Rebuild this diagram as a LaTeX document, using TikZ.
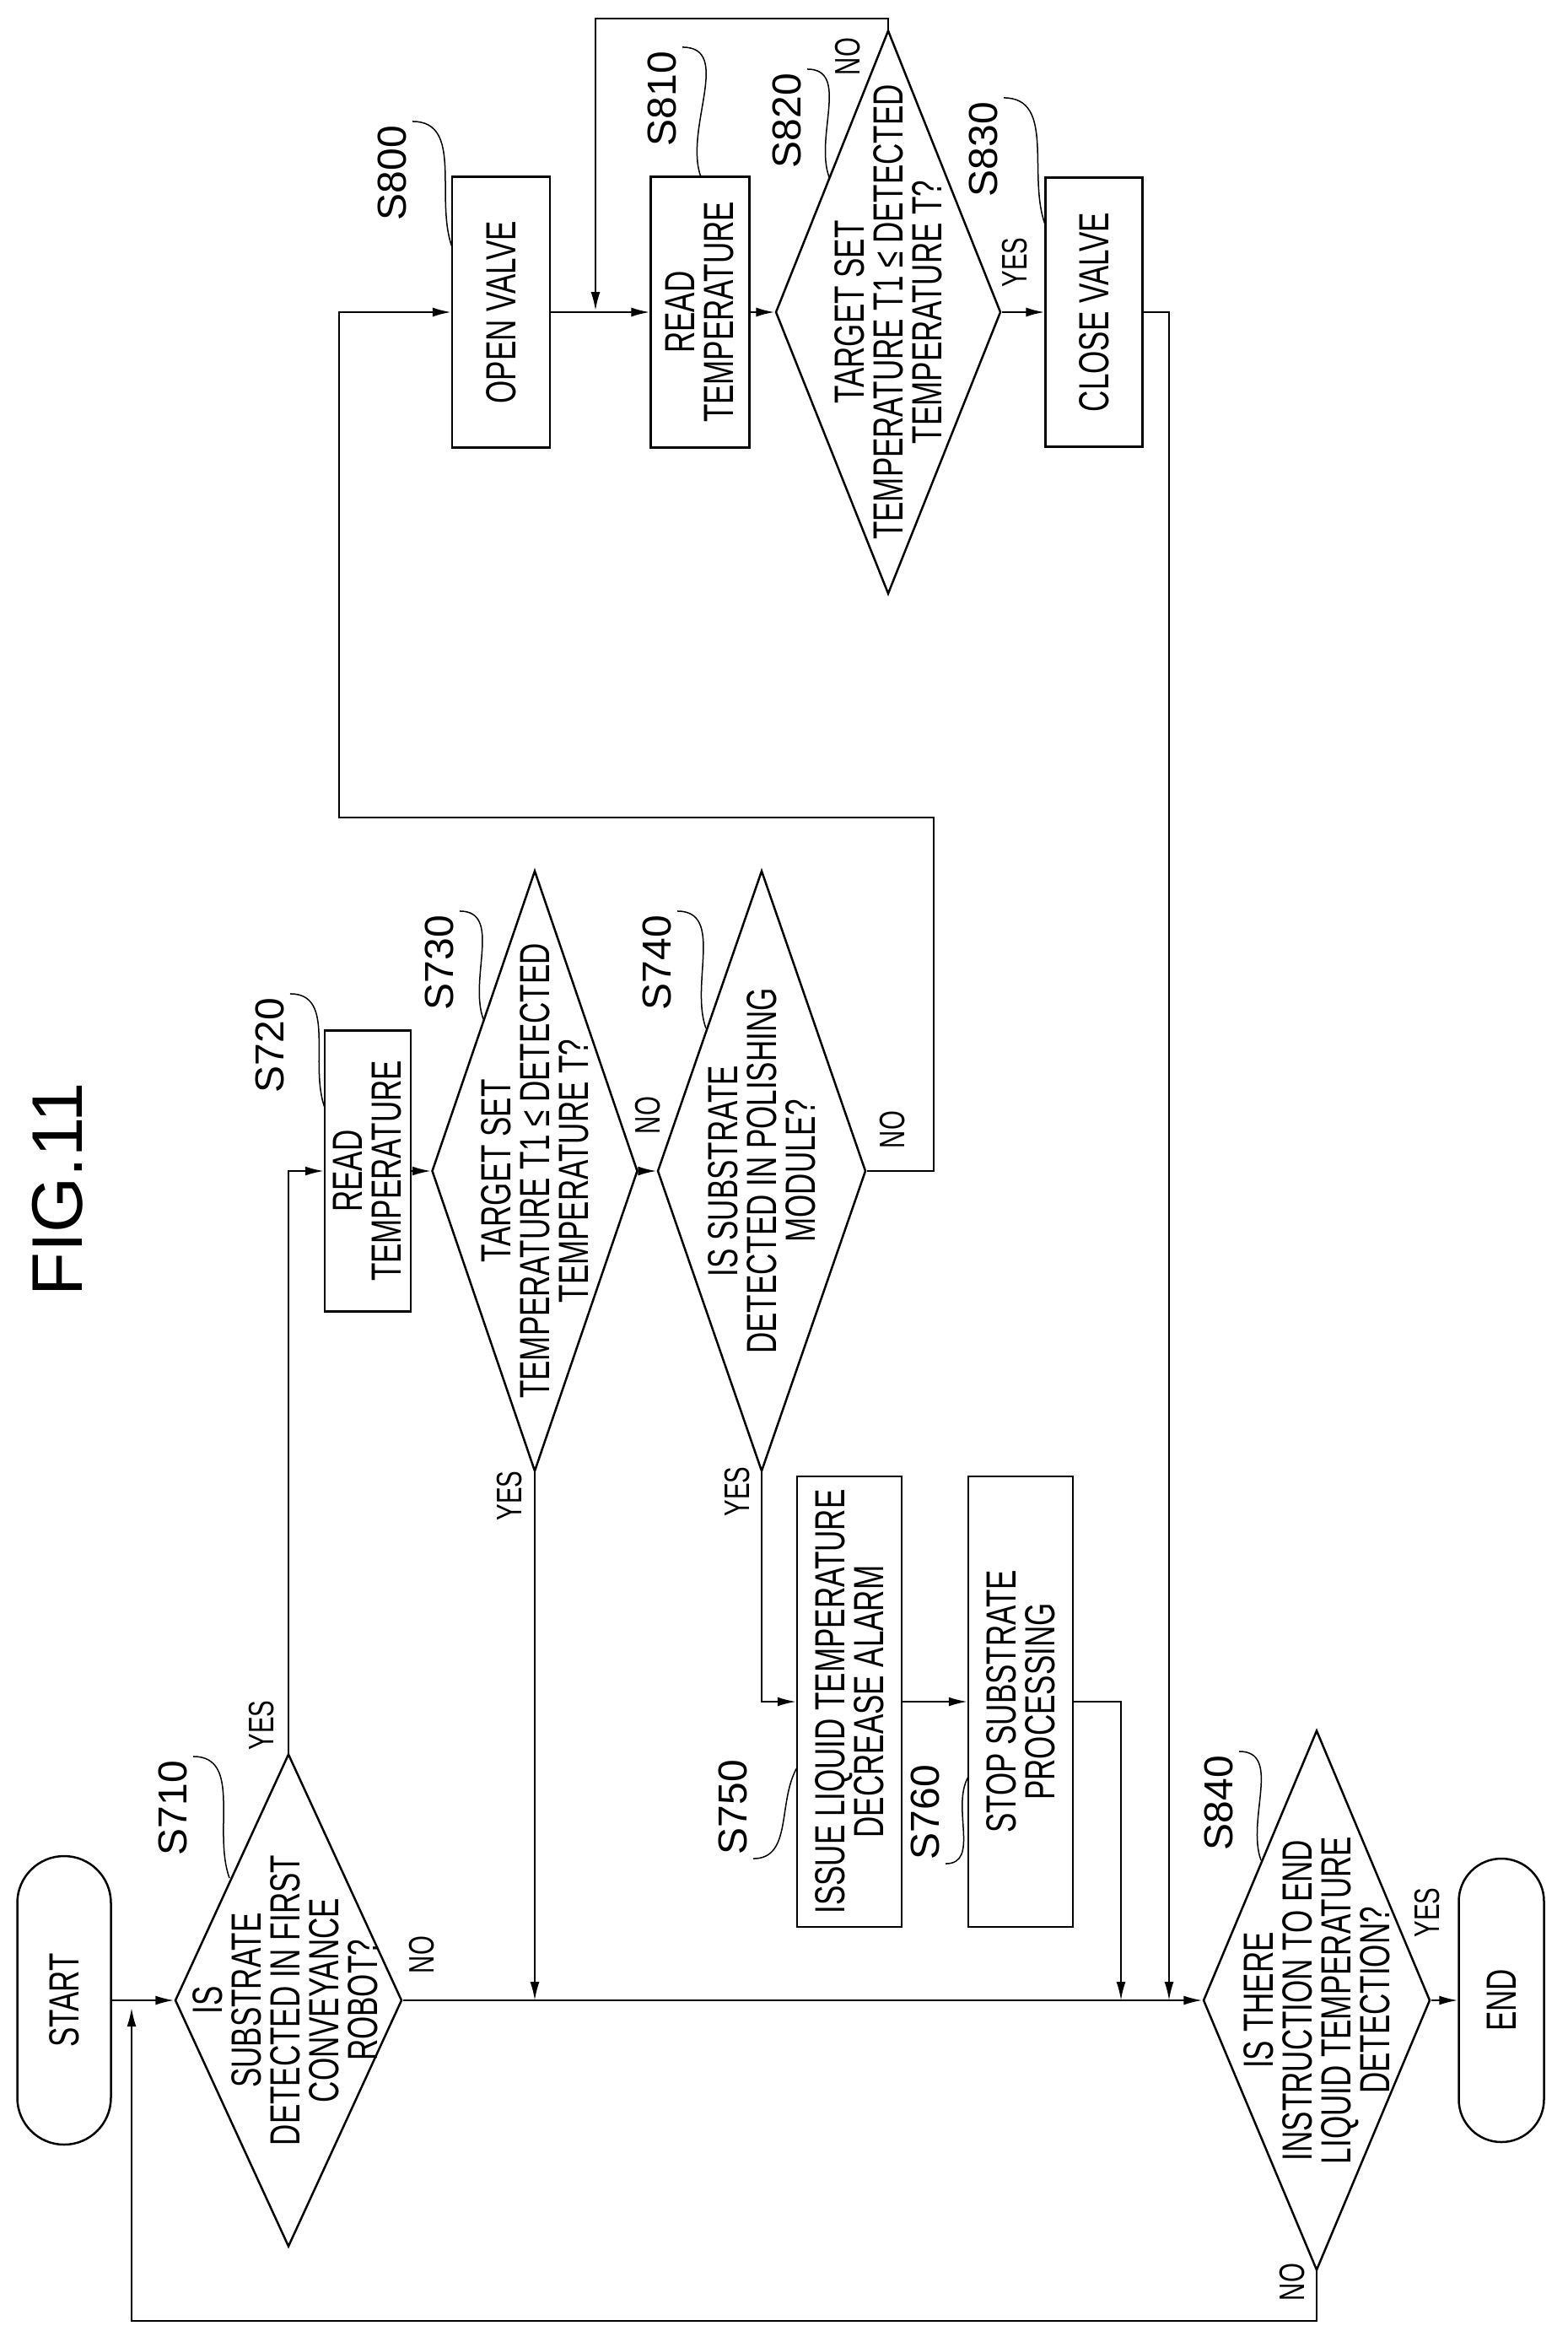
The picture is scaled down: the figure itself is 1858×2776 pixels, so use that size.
\documentclass[tikz,border=0pt]{standalone}
\usepackage{fontspec}
\setmainfont{Liberation Sans}[FakeStretch=0.7]
\newfontfamily\labfont{Liberation Sans}
\usetikzlibrary{shapes.geometric,shapes.misc,arrows.meta}
\newcommand\boxfont{\fontsize{50}{46}\selectfont}
\newcommand\ynfont{\fontsize{42}{44}\selectfont}
\newcommand\stepfont{\labfont\fontsize{48}{50}\selectfont}
\begin{document}
\begin{tikzpicture}[x=1pt,y=-1pt,
  every path/.style={line width=2pt},
  box/.style={draw, rectangle, line width=2.5pt, rotate=90, inner sep=0pt, font=\boxfont, align=center},
  term/.style={draw, rounded rectangle, line width=2.5pt, rotate=90, inner sep=0pt, font=\boxfont},
  dia/.style={draw, diamond, line width=2.5pt, rotate=90, inner sep=0pt},
  txt/.style={rotate=90, inner sep=0pt, font=\boxfont, align=center},
  yn/.style={rotate=90, inner sep=0pt, font=\ynfont},
  steplab/.style={rotate=90, inner sep=0pt, font=\stepfont},
  lead/.style={line width=1.5pt},
  arr/.style={-{Latex[length=22pt,width=11pt]}, line width=2pt}]
\useasboundingbox (0,0) rectangle (1858,2776);

\node[rotate=90, font=\labfont\fontsize{85}{85}\selectfont] (title) at (68,1410) {FIG.11};

% nodes
\node[term, minimum width=342pt, minimum height=111pt] (start) at (76,2371) {START};
\node[dia, minimum width=584pt, minimum height=269pt] (s710) at (342,2371) {};
\node[txt] (s710t) at (338,2371) {IS\\SUBSTRATE\\DETECTED IN FIRST\\CONVEYANCE\\ROBOT?};
\node[box, minimum width=333pt, minimum height=102pt] (s720) at (436,1388) {READ\\TEMPERATURE};
\node[dia, minimum width=712pt, minimum height=244pt] (s730) at (634,1388) {};
\node[txt] (s730t) at (634,1388) {TARGET SET\\TEMPERATURE T1 ≤ DETECTED\\TEMPERATURE T?};
\node[dia, minimum width=712pt, minimum height=247pt] (s740) at (903,1388) {};
\node[txt] (s740t) at (903,1388) {IS SUBSTRATE\\DETECTED IN POLISHING\\MODULE?};
\node[box, minimum width=534pt, minimum height=124pt] (s750) at (1007,2017) {ISSUE LIQUID TEMPERATURE\\DECREASE ALARM};
\node[box, minimum width=534pt, minimum height=124pt] (s760) at (1210,2017) {STOP SUBSTRATE\\PROCESSING};
\node[box, minimum width=321pt, minimum height=116pt] (s800) at (594,370) {OPEN VALVE};
\node[box, minimum width=321pt, minimum height=117pt] (s810) at (830,370) {READ\\TEMPERATURE};
\node[dia, minimum width=668pt, minimum height=267pt] (s820) at (1053,370) {};
\node[txt] (s820t) at (1053,370) {TARGET SET\\TEMPERATURE T1 ≤ DETECTED\\TEMPERATURE T?};
\node[box, minimum width=319pt, minimum height=115pt] (s830) at (1297,370) {CLOSE VALVE};
\node[dia, minimum width=640pt, minimum height=269pt] (s840) at (1561,2371) {};
\node[txt] (s840t) at (1561,2371) {IS THERE\\INSTRUCTION TO END\\LIQUID TEMPERATURE\\DETECTION?};
\node[term, minimum width=336pt, minimum height=101pt] (end) at (1780,2371) {END};

% step labels
\node[steplab] (l710) at (205,2143) {S710};
\node[steplab] (l720) at (320,1239) {S720};
\node[steplab] (l730) at (521,1141) {S730};
\node[steplab] (l740) at (779,1141) {S740};
\node[steplab] (l750) at (869,2142) {S750};
\node[steplab] (l760) at (1097,2148) {S760};
\node[steplab] (l800) at (465,205) {S800};
\node[steplab] (l810) at (785,117) {S810};
\node[steplab] (l820) at (933,143) {S820};
\node[steplab] (l830) at (1166,177) {S830};
\node[steplab] (l840) at (1445,2137) {S840};

\coordinate (e710) at (272,2226);
\coordinate (e720) at (385,1313);
\coordinate (e730) at (573,1208);
\coordinate (e740) at (837,1219);
\coordinate (e750) at (945,2095);
\coordinate (e760) at (1148,2106);
\coordinate (e800) at (536,293);
\coordinate (e810) at (831,210);
\coordinate (e820) at (983,210);
\coordinate (e830) at (1239,266);
\coordinate (e840) at (1495,2205);
\draw[lead] (l710.south east) ++(6,-4) to[out=0,in=110] (e710);
\draw[lead] (l720.south east) ++(6,-4) to[out=0,in=110] (e720);
\draw[lead] (l730.south east) ++(6,-4) to[out=0,in=110] (e730);
\draw[lead] (l740.south east) ++(6,-4) to[out=0,in=110] (e740);
\draw[lead] (l750.south west) ++(6,4) to[out=0,in=-120] (e750);
\draw[lead] (l760.south west) ++(6,4) to[out=0,in=-120] (e760);
\draw[lead] (l800.south east) ++(6,-4) to[out=0,in=110] (e800);
\draw[lead] (l810.south east) ++(6,-4) to[out=0,in=110] (e810);
\draw[lead] (l820.south east) ++(6,-4) to[out=0,in=110] (e820);
\draw[lead] (l830.south east) ++(6,-4) to[out=0,in=110] (e830);
\draw[lead] (l840.south east) ++(6,-4) to[out=0,in=110] (e840);

% yes/no labels
\node[yn] (y710) at (310,2045) {YES};
\node[yn] (n710) at (500,2317) {NO};
\node[yn] (n730) at (768,1322) {NO};
\node[yn] (y730) at (604,1773) {YES};
\node[yn] (n740) at (1058,1339) {NO};
\node[yn] (y740) at (874,1768) {YES};
\node[yn] (n820) at (1005,67) {NO};
\node[yn] (y820) at (1203,311) {YES};
\node[yn] (y840) at (1692,2267) {YES};
\node[yn] (n840) at (1532,2705) {NO};

% helper coordinates
\coordinate (lp) at (156,2380);
\coordinate (c1) at (1107,969);
\coordinate (c2) at (402,969);
\coordinate (cn) at (706,22);
\coordinate (j) at (706,368);
\coordinate (m730) at (634,2371);
\coordinate (m760) at (1329,2371);
\coordinate (m830) at (1386,2371);

% connectors
\draw[arr] (start.south) -- (s710.north);
\draw[arr] (s840.west) -- ++(0,59) -| (lp);
\draw[arr] (s710.east) |- (s720.north);
\draw[arr] (s720.south) -- (s730.north);
\draw[arr] (s730.south) -- (s740.north);
\draw[arr] (s730.west) -- (m730);
\draw[arr] (s710.south) -- (s840.north);
\draw[arr] (s740.south) -| (c1) -- (c2) |- (s800.north);
\draw[arr] (s740.west) |- (s750.north);
\draw[arr] (s750.south) -- (s760.north);
\draw[arr] (s760.south) -| (m760);
\draw[arr] (s800.south) -- (s810.north);
\draw[arr] (s820.east) |- (cn) -- (j);
\draw[arr] (s810.south) -- (s820.north);
\draw[arr] (s820.south) -- (s830.north);
\draw[arr] (s830.south) -| (m830);
\draw[arr] (s840.south) -- (end.north);
\end{tikzpicture}
\end{document}
